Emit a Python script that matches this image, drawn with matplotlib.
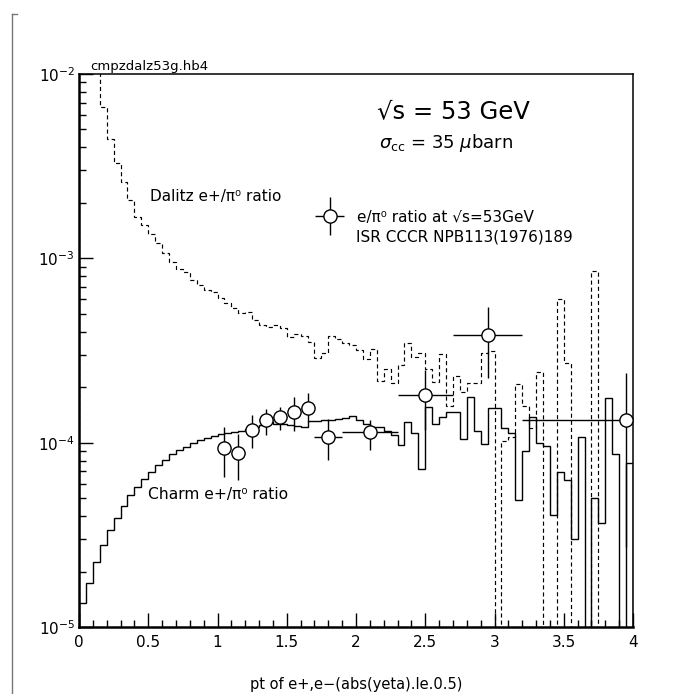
import numpy as np
import matplotlib.pyplot as plt
from matplotlib.legend_handler import HandlerErrorbar
from matplotlib.lines import Line2D
from matplotlib.ticker import MultipleLocator, LogLocator, NullFormatter

plt.rcParams['font.family'] = ['DejaVu Sans']
plt.rcParams['mathtext.fontset'] = 'dejavusans'

# histogram binning: 80 bins of 0.05 in pt
bin_edges = np.linspace(0.0, 4.0, 81)

# charm e+/pi0 ratio (solid histogram)
charm = [
    1.35e-5, 1.74e-5, 2.25e-5, 2.77e-5, 3.34e-5, 3.92e-5, 4.53e-5, 5.20e-5, 5.77e-5, 6.34e-5,
    6.95e-5, 7.53e-5, 8.10e-5, 8.67e-5, 9.10e-5, 9.50e-5, 9.95e-5, 1.03e-4, 1.06e-4, 1.09e-4,
    1.11e-4, 1.13e-4, 1.14e-4, 1.16e-4, 1.18e-4, 1.22e-4, 1.25e-4, 1.30e-4, 1.27e-4, 1.26e-4,
    1.24e-4, 1.23e-4, 1.21e-4, 1.31e-4, 1.31e-4, 1.32e-4, 1.32e-4, 1.34e-4, 1.36e-4, 1.39e-4,
    1.33e-4, 1.26e-4, 1.22e-4, 1.21e-4, 1.16e-4, 1.10e-4, 9.7e-5, 1.30e-4, 1.13e-4, 7.2e-5,
    1.57e-4, 1.27e-4, 1.37e-4, 1.47e-4, 1.47e-4, 1.05e-4, 1.77e-4, 1.15e-4, 9.8e-5, 1.55e-4,
    1.55e-4, 1.20e-4, 1.13e-4, 4.9e-5, 9.0e-5, 1.38e-4, 1.0e-4, 9.6e-5, 4.05e-5, 6.95e-5,
    6.27e-5, 2.99e-5, 1.07e-4, 0.0, 4.99e-5, 3.65e-5, 1.74e-4, 8.67e-5, 0.0, 7.73e-5,
]

# Dalitz e+/pi0 ratio (dashed histogram)
dalitz = [
    2.5e-2, 1.8e-2, 1.2e-2, 6.6e-3, 4.43e-3, 3.30e-3, 2.58e-3, 2.07e-3, 1.68e-3, 1.52e-3,
    1.36e-3, 1.21e-3, 1.07e-3, 9.6e-4, 8.8e-4, 8.45e-4, 7.6e-4, 7.2e-4, 6.7e-4, 6.6e-4,
    6.07e-4, 5.7e-4, 5.36e-4, 5.03e-4, 5.13e-4, 4.62e-4, 4.35e-4, 4.26e-4, 4.35e-4, 4.17e-4,
    3.76e-4, 3.88e-4, 3.79e-4, 3.53e-4, 2.87e-4, 3.05e-4, 3.79e-4, 3.63e-4, 3.46e-4, 3.39e-4,
    3.18e-4, 2.84e-4, 3.22e-4, 2.15e-4, 2.5e-4, 2.12e-4, 2.64e-4, 3.49e-4, 2.9e-4, 3.07e-4,
    2.5e-4, 2.14e-4, 3.01e-4, 1.58e-4, 2.30e-4, 1.89e-4, 2.11e-4, 2.11e-4, 3.05e-4, 3.14e-4,
    0.0, 1.02e-4, 1.08e-4, 2.08e-4, 1.58e-4, 1.20e-4, 2.43e-4, 0.0, 0.0, 6.0e-4,
    2.72e-4, 0.0, 0.0, 0.0, 8.57e-4, 0.0, 0.0, 0.0, 0.0, 0.0,
]

# ISR CCCR data points e/pi0 at sqrt(s)=53 GeV
pt_x = [1.05, 1.15, 1.25, 1.35, 1.45, 1.55, 1.65, 1.80, 2.10, 2.50, 2.95, 3.95]
pt_y = [9.3e-5, 8.75e-5, 1.17e-4, 1.32e-4, 1.37e-4, 1.46e-4, 1.55e-4, 1.08e-4, 1.14e-4, 1.81e-4, 3.86e-4, 1.33e-4]
pt_hi = [1.21e-4, 1.12e-4, 1.41e-4, 1.52e-4, 1.57e-4, 1.76e-4, 1.85e-4, 1.34e-4, 1.33e-4, 2.48e-4, 5.42e-4, 2.39e-4]
pt_lo = [6.5e-5, 6.3e-5, 9.3e-5, 1.10e-4, 1.17e-4, 1.15e-4, 1.30e-4, 8.05e-5, 9.1e-5, 1.17e-4, 2.23e-4, 2.7e-5]
pt_xerr = [0.05, 0.05, 0.05, 0.05, 0.05, 0.05, 0.05, 0.10, 0.20, 0.20, 0.25, 0.75]

# zero bins have to reach the bottom of the log axis
floor = 1e-9
charm_plot = np.where(np.array(charm) > 0, charm, floor)
dalitz_plot = np.where(np.array(dalitz) > 0, dalitz, floor)

fig = plt.figure(figsize=(6.88, 6.94), dpi=100)
ax = fig.add_axes([79/688, 1-627/694, 554/688, 553/694])

ax.stairs(dalitz_plot, bin_edges, color='black', lw=0.85, linestyle=(0, (3.5, 2.5)))
ax.stairs(charm_plot, bin_edges, color='black', lw=1.0)

y = np.array(pt_y)
yerr = [y - np.array(pt_lo), np.array(pt_hi) - y]
eb = ax.errorbar(pt_x, pt_y, yerr=yerr, xerr=pt_xerr, fmt='o', ms=9.5,
                 mfc='white', mec='black', mew=1.0, ecolor='black', elinewidth=1.0,
                 capsize=0, zorder=5, label='e/π⁰ ratio at √s=53GeV')

ax.set_yscale('log')
ax.set_xlim(0, 4)
ax.set_ylim(1e-5, 1e-2)

ax.xaxis.set_major_locator(MultipleLocator(0.5))
ax.xaxis.set_minor_locator(MultipleLocator(0.1))
ax.xaxis.set_major_formatter(plt.FuncFormatter(lambda v, p: '%g' % v))
ax.yaxis.set_major_locator(LogLocator(base=10))
ax.yaxis.set_minor_locator(LogLocator(base=10, subs=np.arange(2, 10)))
ax.yaxis.set_minor_formatter(NullFormatter())
ax.tick_params(which='both', direction='in', top=False, right=False, labelsize=11, width=1.0)
ax.tick_params(which='major', length=10, pad=6)
ax.tick_params(which='minor', length=5)
ax.tick_params(axis='y', pad=3)

for side in ['left', 'bottom']:
    ax.spines[side].set_linewidth(1.8)
for side in ['top', 'right']:
    ax.spines[side].set_linewidth(1.1)

ax.set_xlabel('pt of e+,e−(abs(yeta).le.0.5)', fontsize=10.5, labelpad=19)

ax.text(0.538, 0.933, '√s = 53 GeV', transform=ax.transAxes, fontsize=17.5, va='center')
ax.text(0.542, 0.875, r'$\sigma_{\rm cc}$ = 35 $\mu$barn', transform=ax.transAxes, fontsize=13, va='center')
ax.text(0.128, 0.778, 'Dalitz e+/π⁰ ratio', transform=ax.transAxes, fontsize=11, va='center')
ax.text(0.125, 0.239, 'Charm e+/π⁰ ratio', transform=ax.transAxes, fontsize=11.2, va='center')
ax.text(0.5, 0.705, 'ISR CCCR NPB113(1976)189', transform=ax.transAxes, fontsize=11, va='center')
ax.text(0.02, 1.002, 'cmpzdalz53g.hb4', transform=ax.transAxes, fontsize=9.5, va='bottom')

ax.legend(handles=[eb], loc='center left', bbox_to_anchor=(0.426, 0.741),
          frameon=False, fontsize=11, borderpad=0, borderaxespad=0,
          handlelength=1.9, handletextpad=0.85,
          handler_map={type(eb): HandlerErrorbar(xerr_size=0.95, yerr_size=1.25)})

# page border line on the left
fig.add_artist(Line2D([12/688, 12/688], [0, 1-14/694], color='#777777', lw=1.0))
fig.add_artist(Line2D([12/688, 17/688], [1-14/694, 1-14/694], color='#777777', lw=1.0))

fig.savefig('out.png', dpi=100)
